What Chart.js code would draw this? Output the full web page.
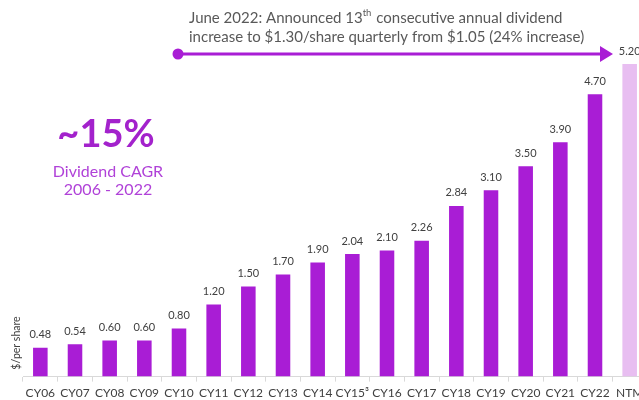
<!DOCTYPE html>
<html>
<head>
<meta charset="utf-8">
<script src="https://cdn.jsdelivr.net/npm/chart.js@4/dist/chart.umd.min.js"></script>
<style>
  html,body{margin:0;padding:0;background:#fff;overflow:hidden;}
  #wrap{width:660px;height:404px;position:relative;}
</style>
</head>
<body>
<div id="wrap"><canvas id="ch"></canvas></div>
<script>
const categories = ['CY06','CY07','CY08','CY09','CY10','CY11','CY12','CY13','CY14','CY15\u00B3','CY16','CY17','CY18','CY19','CY20','CY21','CY22','NTM'];
const dividends  = [0.48,0.54,0.60,0.60,0.80,1.20,1.50,1.70,1.90,2.04,2.10,2.26,2.84,3.10,3.50,3.90,4.70,5.20];
const barColors  = categories.map(c => c==='NTM' ? '#E8BEF1' : '#A91DD5');
const FONT = 'Lato, "Open Sans", sans-serif';

// value labels above bars
const valueLabels = {
  id:'valueLabels',
  afterDatasetsDraw(chart){
    const ctx = chart.ctx, meta = chart.getDatasetMeta(0);
    ctx.save();
    ctx.font = '11px ' + FONT; ctx.fillStyle = '#404040';
    ctx.textAlign = 'center'; ctx.textBaseline = 'middle';
    meta.data.forEach((b,i)=> ctx.fillText(dividends[i].toFixed(2), b.x, b.y - 13));
    ctx.restore();
  }
};

// callouts: arrow, note, CAGR, axis title
const callouts = {
  id:'callouts',
  afterDraw(chart){
    const ctx = chart.ctx;
    ctx.save();
    const purple = '#A91DD5';
    // arrow
    ctx.strokeStyle = purple; ctx.fillStyle = purple; ctx.lineWidth = 3;
    ctx.beginPath(); ctx.moveTo(178,54); ctx.lineTo(602,54); ctx.stroke();
    ctx.beginPath(); ctx.arc(178,54,5.5,0,Math.PI*2); ctx.fill();
    ctx.beginPath(); ctx.moveTo(600,46); ctx.lineTo(613,54); ctx.lineTo(600,62); ctx.closePath(); ctx.fill();
    // note text
    ctx.fillStyle = '#595959'; ctx.textBaseline = 'middle'; ctx.textAlign = 'left';
    ctx.font = '15px ' + FONT;
    let x = 189;
    const p1 = 'June 2022: Announced 13';
    ctx.fillText(p1, x, 18); x += ctx.measureText(p1).width;
    ctx.font = '9.5px ' + FONT; ctx.fillText('th', x, 13); x += ctx.measureText('th').width + 1;
    ctx.font = '15px ' + FONT; ctx.fillText(' consecutive annual dividend', x, 18);
    ctx.fillText('increase to $1.30/share quarterly from $1.05 (24% increase)', 189, 37);
    // CAGR
    ctx.textAlign = 'center';
    ctx.fillStyle = '#A322CC'; ctx.font = 'bold 38px ' + FONT;
    ctx.fillText('~15%', 106, 135);
    ctx.fillStyle = '#B042D8'; ctx.font = '16px ' + FONT;
    ctx.fillText('Dividend CAGR', 108, 172);
    ctx.fillText('2006 - 2022', 108, 190);
    // y axis title
    ctx.translate(17, 343); ctx.rotate(-Math.PI/2);
    ctx.fillStyle = '#404040'; ctx.font = '10.5px ' + FONT;
    ctx.fillText('$/per share', 0, 0);
    ctx.restore();
  }
};

new Chart(document.getElementById('ch'), {
  type:'bar',
  data:{ labels:categories, datasets:[{ data:dividends, backgroundColor:barColors, borderWidth:0,
    barPercentage:0.84, categoryPercentage:0.5 }]},
  options:{
    responsive:true, maintainAspectRatio:false, animation:false,
    layout:{ padding:{ left:23, right:13, top:16, bottom:0 } },
    plugins:{ legend:{display:false}, tooltip:{enabled:false} },
    scales:{
      x:{ grid:{ display:true, drawOnChartArea:false, color:'#D9D9D9', tickLength:5, offset:true },
          border:{ color:'#D9D9D9' },
          ticks:{ color:'#404040', font:{ family:FONT, size:12 }, padding:4, maxRotation:0, autoSkip:false } },
      y:{ display:false, min:0, max:6 }
    }
  },
  plugins:[valueLabels, callouts]
});
</script>
</body>
</html>
